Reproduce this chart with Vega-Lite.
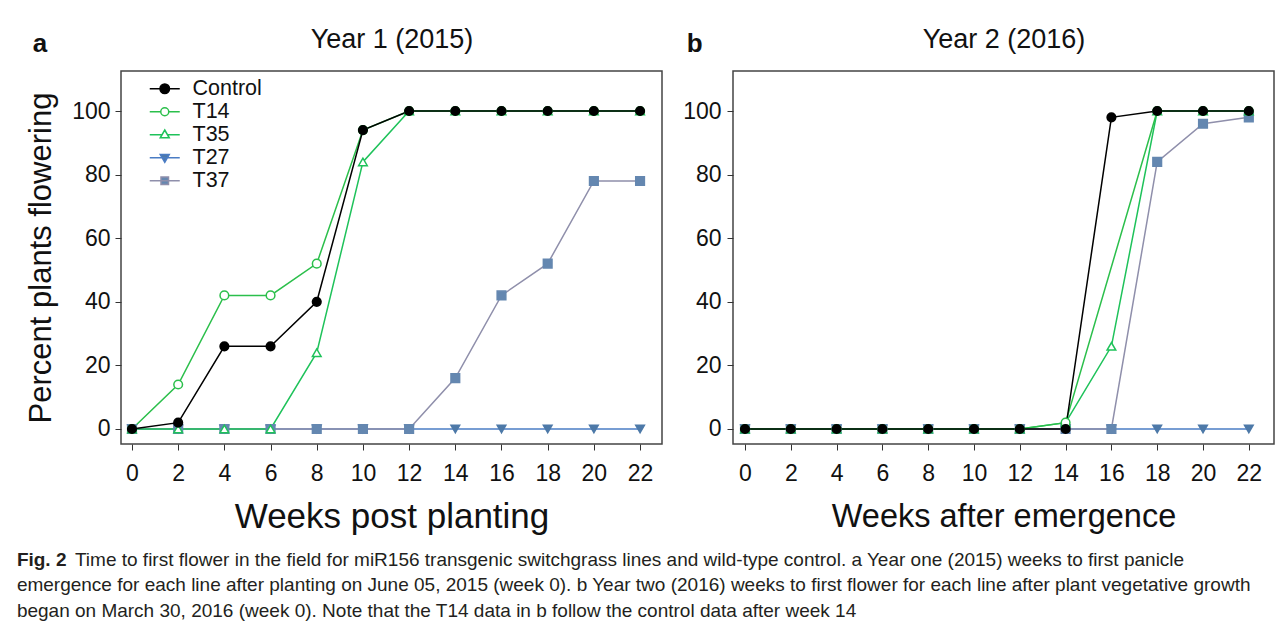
{
  "$schema": "https://vega.github.io/schema/vega-lite/v6.json",
  "padding": {"left": 16, "top": 24, "right": 2, "bottom": 0},
  "background": "white",
  "data": {"values": [
    {"panel":"a","series":"T27","week":0,"pct":0},{"panel":"a","series":"T27","week":2,"pct":0},{"panel":"a","series":"T27","week":4,"pct":0},{"panel":"a","series":"T27","week":6,"pct":0},{"panel":"a","series":"T27","week":8,"pct":0},{"panel":"a","series":"T27","week":10,"pct":0},{"panel":"a","series":"T27","week":12,"pct":0},{"panel":"a","series":"T27","week":14,"pct":0},{"panel":"a","series":"T27","week":16,"pct":0},{"panel":"a","series":"T27","week":18,"pct":0},{"panel":"a","series":"T27","week":20,"pct":0},{"panel":"a","series":"T27","week":22,"pct":0},
    {"panel":"a","series":"T37","week":0,"pct":0},{"panel":"a","series":"T37","week":2,"pct":0},{"panel":"a","series":"T37","week":4,"pct":0},{"panel":"a","series":"T37","week":6,"pct":0},{"panel":"a","series":"T37","week":8,"pct":0},{"panel":"a","series":"T37","week":10,"pct":0},{"panel":"a","series":"T37","week":12,"pct":0},{"panel":"a","series":"T37","week":14,"pct":16},{"panel":"a","series":"T37","week":16,"pct":42},{"panel":"a","series":"T37","week":18,"pct":52},{"panel":"a","series":"T37","week":20,"pct":78},{"panel":"a","series":"T37","week":22,"pct":78},
    {"panel":"a","series":"T35","week":0,"pct":0},{"panel":"a","series":"T35","week":2,"pct":0},{"panel":"a","series":"T35","week":4,"pct":0},{"panel":"a","series":"T35","week":6,"pct":0},{"panel":"a","series":"T35","week":8,"pct":24},{"panel":"a","series":"T35","week":10,"pct":84},{"panel":"a","series":"T35","week":12,"pct":100},{"panel":"a","series":"T35","week":14,"pct":100},{"panel":"a","series":"T35","week":16,"pct":100},{"panel":"a","series":"T35","week":18,"pct":100},{"panel":"a","series":"T35","week":20,"pct":100},{"panel":"a","series":"T35","week":22,"pct":100},
    {"panel":"a","series":"T14","week":0,"pct":0},{"panel":"a","series":"T14","week":2,"pct":14},{"panel":"a","series":"T14","week":4,"pct":42},{"panel":"a","series":"T14","week":6,"pct":42},{"panel":"a","series":"T14","week":8,"pct":52},{"panel":"a","series":"T14","week":10,"pct":94},{"panel":"a","series":"T14","week":12,"pct":100},{"panel":"a","series":"T14","week":14,"pct":100},{"panel":"a","series":"T14","week":16,"pct":100},{"panel":"a","series":"T14","week":18,"pct":100},{"panel":"a","series":"T14","week":20,"pct":100},{"panel":"a","series":"T14","week":22,"pct":100},
    {"panel":"a","series":"Control","week":0,"pct":0},{"panel":"a","series":"Control","week":2,"pct":2},{"panel":"a","series":"Control","week":4,"pct":26},{"panel":"a","series":"Control","week":6,"pct":26},{"panel":"a","series":"Control","week":8,"pct":40},{"panel":"a","series":"Control","week":10,"pct":94},{"panel":"a","series":"Control","week":12,"pct":100},{"panel":"a","series":"Control","week":14,"pct":100},{"panel":"a","series":"Control","week":16,"pct":100},{"panel":"a","series":"Control","week":18,"pct":100},{"panel":"a","series":"Control","week":20,"pct":100},{"panel":"a","series":"Control","week":22,"pct":100},
    {"panel":"b","series":"T27","week":0,"pct":0},{"panel":"b","series":"T27","week":2,"pct":0},{"panel":"b","series":"T27","week":4,"pct":0},{"panel":"b","series":"T27","week":6,"pct":0},{"panel":"b","series":"T27","week":8,"pct":0},{"panel":"b","series":"T27","week":10,"pct":0},{"panel":"b","series":"T27","week":12,"pct":0},{"panel":"b","series":"T27","week":14,"pct":0},{"panel":"b","series":"T27","week":16,"pct":0},{"panel":"b","series":"T27","week":18,"pct":0},{"panel":"b","series":"T27","week":20,"pct":0},{"panel":"b","series":"T27","week":22,"pct":0},
    {"panel":"b","series":"T37","week":0,"pct":0},{"panel":"b","series":"T37","week":2,"pct":0},{"panel":"b","series":"T37","week":4,"pct":0},{"panel":"b","series":"T37","week":6,"pct":0},{"panel":"b","series":"T37","week":8,"pct":0},{"panel":"b","series":"T37","week":10,"pct":0},{"panel":"b","series":"T37","week":12,"pct":0},{"panel":"b","series":"T37","week":14,"pct":0},{"panel":"b","series":"T37","week":16,"pct":0},{"panel":"b","series":"T37","week":18,"pct":84},{"panel":"b","series":"T37","week":20,"pct":96},{"panel":"b","series":"T37","week":22,"pct":98},
    {"panel":"b","series":"T35","week":0,"pct":0},{"panel":"b","series":"T35","week":2,"pct":0},{"panel":"b","series":"T35","week":4,"pct":0},{"panel":"b","series":"T35","week":6,"pct":0},{"panel":"b","series":"T35","week":8,"pct":0},{"panel":"b","series":"T35","week":10,"pct":0},{"panel":"b","series":"T35","week":12,"pct":0},{"panel":"b","series":"T35","week":14,"pct":2},{"panel":"b","series":"T35","week":16,"pct":26},{"panel":"b","series":"T35","week":18,"pct":100},{"panel":"b","series":"T35","week":20,"pct":100},{"panel":"b","series":"T35","week":22,"pct":100},
    {"panel":"b","series":"T14","week":0,"pct":0},{"panel":"b","series":"T14","week":2,"pct":0},{"panel":"b","series":"T14","week":4,"pct":0},{"panel":"b","series":"T14","week":6,"pct":0},{"panel":"b","series":"T14","week":8,"pct":0},{"panel":"b","series":"T14","week":10,"pct":0},{"panel":"b","series":"T14","week":12,"pct":0},{"panel":"b","series":"T14","week":14,"pct":2},{"panel":"b","series":"T14","week":18,"pct":100},{"panel":"b","series":"T14","week":20,"pct":100},{"panel":"b","series":"T14","week":22,"pct":100},
    {"panel":"b","series":"Control","week":0,"pct":0},{"panel":"b","series":"Control","week":2,"pct":0},{"panel":"b","series":"Control","week":4,"pct":0},{"panel":"b","series":"Control","week":6,"pct":0},{"panel":"b","series":"Control","week":8,"pct":0},{"panel":"b","series":"Control","week":10,"pct":0},{"panel":"b","series":"Control","week":12,"pct":0},{"panel":"b","series":"Control","week":14,"pct":0},{"panel":"b","series":"Control","week":16,"pct":98},{"panel":"b","series":"Control","week":18,"pct":100},{"panel":"b","series":"Control","week":20,"pct":100},{"panel":"b","series":"Control","week":22,"pct":100}
  ]},
  "title": {
    "text": "Fig. 2",
    "subtitle": [
      "\u200b\u00a0\u00a0\u00a0\u00a0\u00a0\u00a0\u00a0\u00a0\u00a0\u00a0\u00a0Time to first flower in the field for miR156 transgenic switchgrass lines and wild-type control. a Year one (2015) weeks to first panicle",
      "emergence for each line after planting on June 05, 2015 (week 0). b Year two (2016) weeks to first flower for each line after plant vegetative growth",
      "began on March 30, 2016 (week 0). Note that the T14 data in b follow the control data after week 14"
    ],
    "orient": "bottom",
    "anchor": "start",
    "frame": "bounds",
    "dx": -8,
    "offset": 16,
    "font": "Liberation Sans",
    "fontSize": 19,
    "fontWeight": "bold",
    "color": "#231f20",
    "subtitleFont": "Liberation Sans",
    "subtitleFontSize": 19,
    "subtitleColor": "#231f20",
    "subtitleLineHeight": 25.5,
    "subtitlePadding": -19
  },
  "spacing": 18,
  "resolve": {
    "scale": {"stroke": "independent", "color": "independent", "fill": "independent", "shape": "independent"},
    "legend": {"stroke": "independent", "color": "independent", "fill": "independent", "shape": "independent"}
  },
  "hconcat": [
    {
      "width": 541,
      "height": 373,
      "title": {"text": "a", "anchor": "start", "frame": "bounds", "fontSize": 26, "fontWeight": "bold", "font": "Liberation Sans", "color": "#111", "dx": 7, "dy": 36},
      "transform": [{"filter": "datum.panel === 'a'"}],
      "layer": [
        {
          "mark": {"type": "line", "strokeWidth": 1.5},
          "encoding": {
            "x": {"field": "week", "type": "quantitative", "scale": {"domain": [-0.476, 22.95], "nice": false, "zero": false},
              "axis": {"values": [0,2,4,6,8,10,12,14,16,18,20,22], "title": "Weeks post planting", "titleFontSize": 35, "titlePadding": 14, "labelPadding": 12, "labelFlush": false}},
            "y": {"field": "pct", "type": "quantitative", "scale": {"domain": [-4.72, 112.58], "nice": false, "zero": false},
              "axis": {"values": [0,20,40,60,80,100], "title": "Percent plants flowering", "titleFontSize": 31, "titlePadding": 14, "labelPadding": 5}},
            "stroke": {"field": "series", "type": "nominal",
              "scale": {"domain": ["Control","T14","T35","T27","T37"], "range": ["#000000","#2bbf4b","#1ec25a","#4a7cc4","#8f8fab"]},
              "legend": {
                "orient": "none", "legendX": 33, "legendY": 7, "title": null, "padding": 0,
                "symbolSize": 100, "symbolStrokeWidth": 1.5, "labelFontSize": 21.5, "labelFont": "Liberation Sans", "labelColor": "#111",
                "labelOffset": 17, "rowPadding": 0,
                "encode": {"symbols": {"update": {
                  "shape": {"signal": "datum.value === 'Control' ? 'M-3,0H3M0.95,0A0.95,0.95,0,1,1,-0.95,0A0.95,0.95,0,1,1,0.95,0Z' : datum.value === 'T14' ? 'M-3,0H-0.8M0.8,0H3M0.8,0A0.8,0.8,0,1,1,-0.8,0A0.8,0.8,0,1,1,0.8,0Z' : datum.value === 'T35' ? 'M-3,0H-0.65M0.65,0H3M0,-0.95L0.9,0.6L-0.9,0.6Z' : datum.value === 'T27' ? 'M-3,0H3M0,0.9L0.9,-0.65L-0.9,-0.65Z' : 'M-3,0H3M-0.75,-0.75H0.75V0.75H-0.75Z'"},
                  "fill": {"signal": "datum.value === 'Control' ? '#000000' : datum.value === 'T27' ? '#4d79a8' : datum.value === 'T37' ? '#6487b0' : '#ffffff'"},
                  "fillOpacity": {"value": 1}
                }}}
              }}
          }
        },
        {
          "mark": {"type": "point", "filled": false, "opacity": 1, "strokeWidth": 1.5, "size": 75},
          "encoding": {
            "x": {"field": "week", "type": "quantitative", "axis": null},
            "y": {"field": "pct", "type": "quantitative", "axis": {"values": [0,20,40,60,80,100], "title": "Percent plants flowering", "titleFontSize": 31, "titlePadding": 14, "labelPadding": 5}},
            "color": {"field": "series", "type": "nominal", "legend": null,
              "scale": {"domain": ["T27","T37","T35","T14","Control"], "range": ["#4d79a8","#6487b0","#1ec25a","#2bbf4b","#000000"]}},
            "fill": {"field": "series", "type": "nominal", "legend": null,
              "scale": {"domain": ["T27","T37","T35","T14","Control"], "range": ["#4d79a8","#6487b0","#ffffff","#ffffff","#000000"]}},
            "shape": {"field": "series", "type": "nominal", "legend": null,
              "scale": {"domain": ["T27","T37","T35","T14","Control"], "range": ["triangle-down","square","triangle-up","circle","circle"]}}
          }
        },
        {
          "mark": {"type": "point", "opacity": 0},
          "encoding": {
            "x": {"field": "week", "type": "quantitative",
              "axis": {"orient": "top", "title": "Year 1 (2015)", "labels": false, "ticks": false, "domain": false, "grid": false, "titleFontSize": 27, "titlePadding": 18}},
            "y": {"field": "pct", "type": "quantitative", "axis": {"values": [0,20,40,60,80,100], "title": "Percent plants flowering", "titleFontSize": 31, "titlePadding": 14, "labelPadding": 5}}
          }
        }
      ],
      "resolve": {"axis": {"x": "independent"}}
    },
    {
      "width": 541,
      "height": 373,
      "title": {"text": "b", "anchor": "start", "frame": "bounds", "fontSize": 26, "fontWeight": "bold", "font": "Liberation Sans", "color": "#111", "dx": 4, "dy": 36},
      "transform": [{"filter": "datum.panel === 'b'"}],
      "layer": [
        {
          "mark": {"type": "line", "strokeWidth": 1.5},
          "encoding": {
            "x": {"field": "week", "type": "quantitative", "scale": {"domain": [-0.524, 23.1], "nice": false, "zero": false},
              "axis": {"values": [0,2,4,6,8,10,12,14,16,18,20,22], "title": "Weeks after emergence", "titleFontSize": 32.5, "titlePadding": 15, "labelPadding": 12, "labelFlush": false}},
            "y": {"field": "pct", "type": "quantitative", "scale": {"domain": [-4.72, 112.58], "nice": false, "zero": false},
              "axis": {"values": [0,20,40,60,80,100], "title": null, "labelPadding": 6}},
            "stroke": {"field": "series", "type": "nominal", "legend": null,
              "scale": {"domain": ["Control","T14","T35","T27","T37"], "range": ["#000000","#2bbf4b","#1ec25a","#4a7cc4","#8f8fab"]}}
          }
        },
        {
          "mark": {"type": "point", "filled": false, "opacity": 1, "strokeWidth": 1.5, "size": 75},
          "encoding": {
            "x": {"field": "week", "type": "quantitative", "axis": null},
            "y": {"field": "pct", "type": "quantitative", "axis": {"values": [0,20,40,60,80,100], "title": null, "labelPadding": 6}},
            "color": {"field": "series", "type": "nominal", "legend": null,
              "scale": {"domain": ["T27","T37","T35","T14","Control"], "range": ["#4d79a8","#6487b0","#1ec25a","#2bbf4b","#000000"]}},
            "fill": {"field": "series", "type": "nominal", "legend": null,
              "scale": {"domain": ["T27","T37","T35","T14","Control"], "range": ["#4d79a8","#6487b0","#ffffff","#ffffff","#000000"]}},
            "shape": {"field": "series", "type": "nominal", "legend": null,
              "scale": {"domain": ["T27","T37","T35","T14","Control"], "range": ["triangle-down","square","triangle-up","circle","circle"]}}
          }
        },
        {
          "mark": {"type": "point", "opacity": 0},
          "encoding": {
            "x": {"field": "week", "type": "quantitative",
              "axis": {"orient": "top", "title": "Year 2 (2016)", "labels": false, "ticks": false, "domain": false, "grid": false, "titleFontSize": 27, "titlePadding": 18}},
            "y": {"field": "pct", "type": "quantitative", "axis": {"values": [0,20,40,60,80,100], "title": null, "labelPadding": 6}}
          }
        }
      ],
      "resolve": {"axis": {"x": "independent"}}
    }
  ],
  "config": {
    "font": "Liberation Sans",
    "view": {"stroke": "#444444", "strokeWidth": 1.5},
    "axis": {"labelFont": "Liberation Sans", "titleFont": "Liberation Sans", "labelFontSize": 23, "labelColor": "#111111", "titleColor": "#111111", "titleFontWeight": "normal", "tickColor": "#333333", "tickSize": 6, "domain": false, "grid": false}
  }
}
